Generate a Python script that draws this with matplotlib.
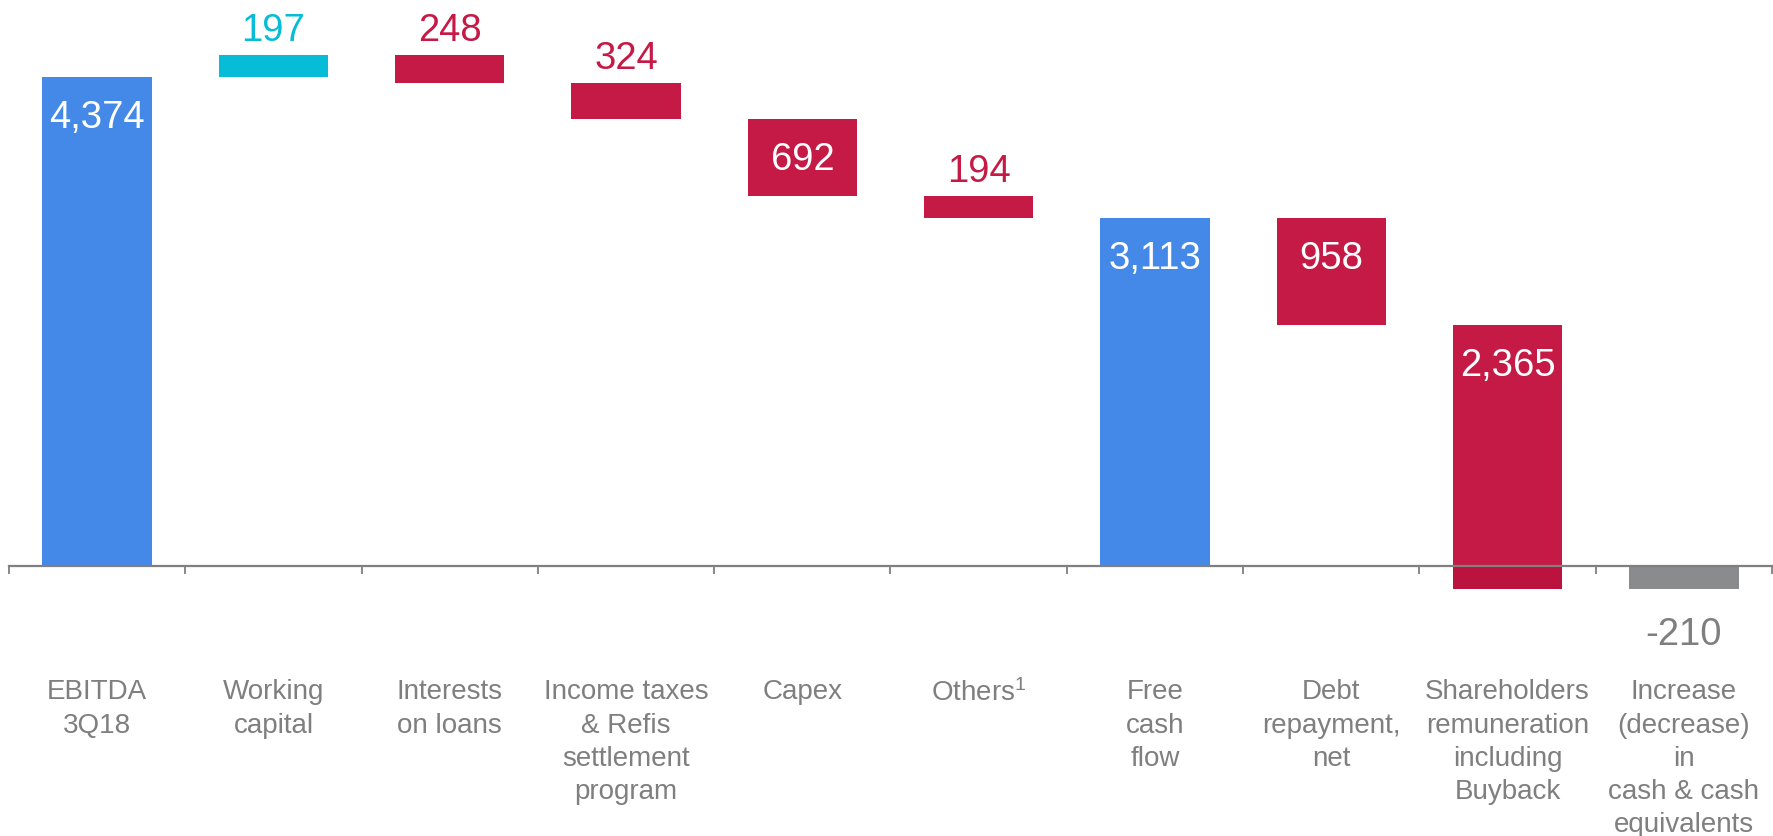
import matplotlib
matplotlib.use("Agg")
import matplotlib.pyplot as plt
import numpy as np

plt.rcParams['font.family'] = ['Liberation Sans', 'DejaVu Sans']
plt.rcParams['mathtext.fontset'] = 'custom'
plt.rcParams['mathtext.rm'] = 'Liberation Sans'
plt.rcParams['mathtext.it'] = 'Liberation Sans'

categorias = ["EBITDA\n3Q18", "Working\ncapital", "Interests\non loans",
              "Income taxes\n& Refis\nsettlement\nprogram", "Capex", "Others$^{\\mathrm{1}}$",
              "Free\ncash\nflow", "Debt\nrepayment,\nnet",
              "Shareholders\nremuneration\nincluding\nBuyback",
              "Increase\n(decrease)\nin\ncash & cash\nequivalents"]
valores = [4374, 197, 248, 324, 692, 194, 3113, 958, 2365, -210]
tipos = ["total", "sobe", "desce", "desce", "desce", "desce", "total", "desce", "desce", "final"]

cores = {"total": "#4589E8", "sobe": "#06BCD6", "desce": "#C51A45", "final": "#8A8B8D"}
vermelho_escuro = "#BB133D"
cinza_texto = "#7F7F7F"

# calcula base e topo de cada barra da cascata
bases = []
topos = []
acum = 0
for v, t in zip(valores, tipos):
    if t in ("total", "final"):
        bases.append(0)
        topos.append(v)
        acum = v
    elif t == "sobe":
        bases.append(acum)
        topos.append(acum + v)
        acum += v
    else:
        bases.append(acum - v)
        topos.append(acum)
        acum -= v

fig = plt.figure(figsize=(17.74, 8.37), dpi=100)
ax = fig.add_axes([9/1774, 0, 1763/1774, 1])
ax.set_xlim(-0.5, len(valores) - 0.5)
ax.set_ylim(-2415, 5071)

x = np.arange(len(valores))
larg = 0.62
for i in range(len(valores)):
    b, tp, t = bases[i], topos[i], tipos[i]
    lo, hi = min(b, tp), max(b, tp)
    if t == "desce" and lo < 0:
        # parte abaixo do eixo um pouco mais escura
        ax.bar(x[i], hi, bottom=0, width=larg, color=cores[t], zorder=2)
        ax.bar(x[i], lo, bottom=0, width=larg, color=vermelho_escuro, zorder=1)
    else:
        ax.bar(x[i], hi - lo, bottom=lo, width=larg, color=cores[t], zorder=2)

    rotulo = "{:,}".format(valores[i])
    if t == "final":
        ax.annotate(rotulo, (x[i], lo), xytext=(0, -45), textcoords="offset pixels",
                    ha="center", va="center", fontsize=27.5, color=cinza_texto)
    elif abs(valores[i]) >= 500:
        ax.annotate(rotulo, (x[i], hi), xytext=(0, -40), textcoords="offset pixels",
                    ha="center", va="center", fontsize=27.5, color="white", zorder=3)
    else:
        ax.annotate(rotulo, (x[i], hi), xytext=(0, 7), textcoords="offset pixels",
                    ha="center", va="bottom", fontsize=27.5, color=cores[t])

# eixo horizontal no zero com marcas entre as categorias
for s in ["left", "right", "top"]:
    ax.spines[s].set_visible(False)
ax.spines["bottom"].set_position(("data", 0))
ax.spines["bottom"].set_color(cinza_texto)
ax.spines["bottom"].set_linewidth(1.6)
ax.spines["bottom"].set_zorder(2.5)
ax.set_yticks([])
ax.set_xticks(x)
ax.set_xticklabels(categorias, fontsize=20, color=cinza_texto, linespacing=1.36, va="top")
ax.tick_params(axis="x", which="major", length=0, pad=81)
ax.set_xticks(np.arange(-0.5, len(valores)), minor=True)
ax.tick_params(axis="x", which="minor", length=6, width=1.3, color=cinza_texto, direction="out")

plt.savefig("out.png", dpi=100)
